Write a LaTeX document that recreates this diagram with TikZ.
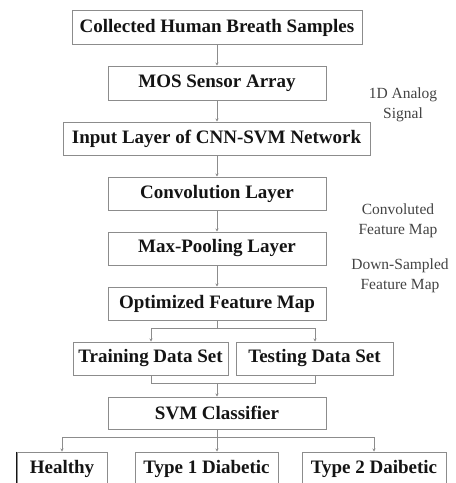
\documentclass[tikz,border=0pt]{standalone}
\usepackage{fontspec}
\setmainfont{Liberation Serif}
\usetikzlibrary{arrows.meta}
\definecolor{boxgray}{HTML}{8C8C8C}
\definecolor{txt}{HTML}{141414}
\tikzset{
  stepbox/.style={draw=boxgray, line width=1pt, rectangle, inner sep=0pt, text=txt,
    font=\fontsize{19}{22}\selectfont\bfseries},
  sidelabel/.style={align=center, text=txt!80, font=\fontsize{15.5}{19.5}\selectfont},
  conn/.style={draw=boxgray, line width=0.9pt},
  arr/.style={conn, -{Stealth[length=3pt,width=3pt]}}
}
\begin{document}
\begin{tikzpicture}[x=1pt,y=-1pt]
\useasboundingbox (0,0) rectangle (456,483);
\clip (0,0) rectangle (456,483);
\node[stepbox, minimum width=290pt, minimum height=34pt] (b1) at (217,27.5) {Collected Human Breath Samples};
\node[stepbox, minimum width=218pt, minimum height=34pt] (b2) at (217,83) {MOS Sensor Array};
\node[stepbox, minimum width=307pt, minimum height=33pt] (b3) at (216.5,138.5) {Input Layer of CNN-SVM Network};
\node[stepbox, minimum width=218pt, minimum height=33pt] (b4) at (217,193.5) {Convolution Layer};
\node[stepbox, minimum width=218pt, minimum height=33pt] (b5) at (217,248.5) {Max-Pooling Layer};
\node[stepbox, minimum width=218pt, minimum height=33pt] (b6) at (217,303.5) {Optimized Feature Map};
\node[stepbox, minimum width=155pt, minimum height=33pt] (tr) at (150.5,358.5) {Training Data Set};
\node[stepbox, minimum width=157pt, minimum height=33pt] (te) at (314.5,358.5) {Testing Data Set};
\node[stepbox, minimum width=218pt, minimum height=32pt] (svm) at (217,413) {SVM Classifier};
\node[stepbox, minimum width=90pt, minimum height=34pt] (h) at (62,469) {Healthy};
\node[stepbox, minimum width=143pt, minimum height=34pt] (t1) at (206.5,469) {Type 1 Diabetic};
\node[stepbox, minimum width=144pt, minimum height=34pt] (t2) at (374,469) {Type 2 Daibetic};
\draw[line width=1.6pt, draw=txt] (h.north west) -- (h.south west);

\node[sidelabel] (l1) at (403,105) {1D Analog\\Signal};
\node[sidelabel] (l2) at (398,221) {Convoluted\\Feature Map};
\node[sidelabel] (l3) at (400,276) {Down-Sampled\\Feature Map};

\draw[arr] (b1.south) -- (b2.north);
\draw[arr] (b2.south) -- (b2.south |- b3.north);
\draw[arr] (b2.south |- b3.south) -- (b4.north);
\draw[arr] (b4.south) -- (b5.north);
\draw[arr] (b5.south) -- (b6.north);

\coordinate (s1) at (217,328);
\draw[conn] (b6.south) -- (s1);
\draw[arr] (s1) -- (151,328) -- (tr.north -| 151,0);
\draw[arr] (s1) -- (315,328) -- (te.north -| 315,0);

\coordinate (m1) at (217,383);
\draw[conn] (tr.south -| 151,0) -- (151,383) -- (315,383) -- (te.south -| 315,0);
\draw[arr] (m1) -- (svm.north);

\coordinate (s2) at (217,437);
\draw[conn] (svm.south) -- (s2);
\draw[arr] (s2) -- (62,437) -- (h.north);
\draw[arr] (s2) -- (t1.north -| s2);
\draw[arr] (s2) -- (374,437) -- (t2.north);
\end{tikzpicture}
\end{document}
